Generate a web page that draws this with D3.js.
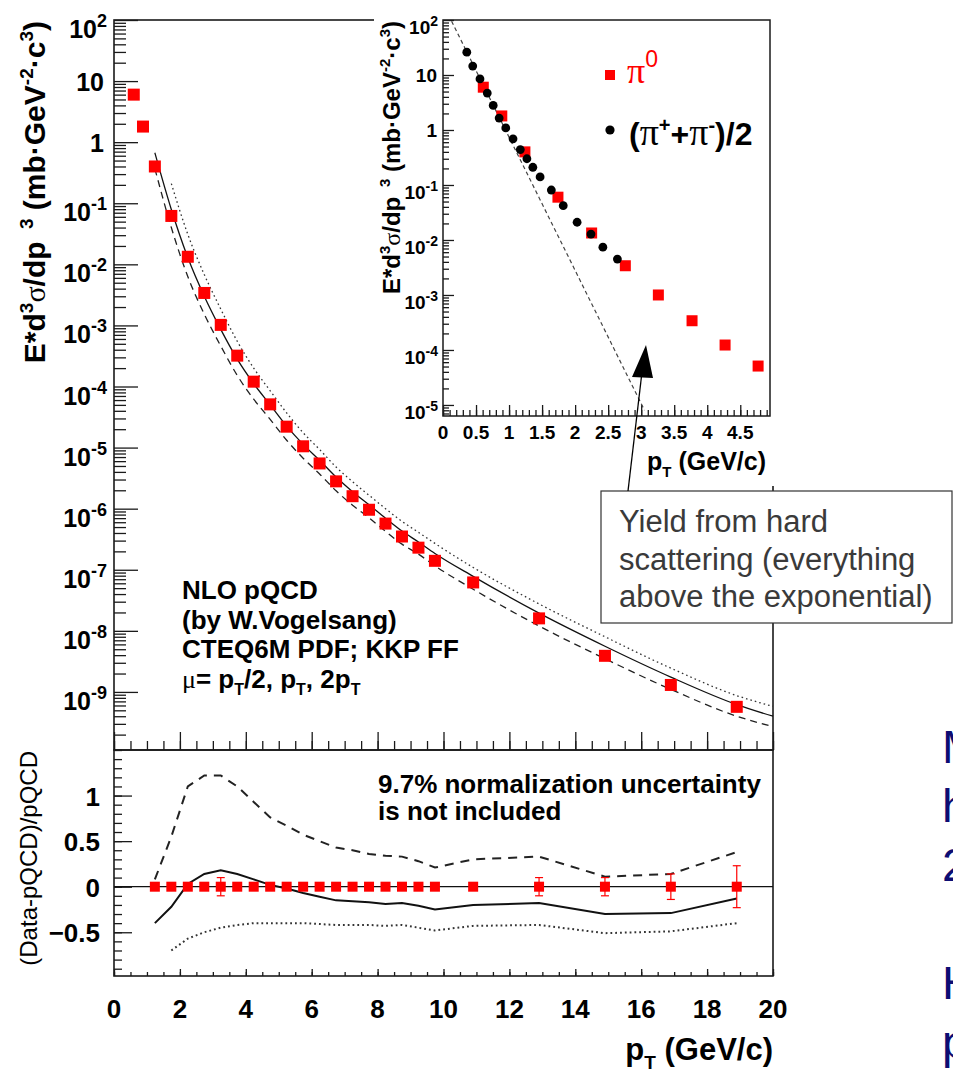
<!DOCTYPE html>
<html>
<head>
<meta charset="utf-8">
<script src="https://cdnjs.cloudflare.com/ajax/libs/d3/7.8.5/d3.min.js"></script>
<style>
  body { margin: 0; background: #fff; overflow: hidden; }
  svg { display: block; font-family: "Liberation Sans", Arial, Helvetica, sans-serif; }
</style>
</head>
<body>
<svg id="viz" width="953" height="1076"></svg>
<script>
// ---- main spectrum (pi0) ----
const dataPt    = [0.6, 0.88, 1.24, 1.74, 2.24, 2.74, 3.24, 3.74, 4.24, 4.74, 5.24, 5.74, 6.24, 6.74, 7.24, 7.74, 8.24, 8.74, 9.24, 9.74, 10.9, 12.9, 14.9, 16.9, 18.9];
const dataYield = [6.0, 1.8, 0.40, 0.062, 0.0133, 3.4e-3, 1.02e-3, 3.2e-4, 1.2e-4, 5.1e-5, 2.2e-5, 1.05e-5, 5.5e-6, 2.8e-6, 1.6e-6, 9.6e-7, 5.7e-7, 3.5e-7, 2.3e-7, 1.4e-7, 6.2e-8, 1.6e-8, 3.9e-9, 1.3e-9, 5.7e-10];

// NLO pQCD curves for the three scale choices
const theoryPt     = [1.24, 1.74, 2.24, 2.74, 3.24, 3.74, 4.24, 4.74, 5.24, 5.74, 6.24, 6.74, 7.24, 7.74, 8.24, 8.74, 9.24, 9.74, 10.9, 12.9, 14.9, 16.9, 18.9, 20];
const theorySolid  = [0.67, 0.079, 0.0129, 3.0e-3, 8.6e-4, 2.8e-4, 1.11e-4, 5.0e-5, 2.25e-5, 1.13e-5, 6.2e-6, 3.3e-6, 1.9e-6, 1.16e-6, 7.0e-7, 4.3e-7, 2.85e-7, 1.85e-7, 7.8e-8, 1.95e-8, 5.6e-9, 1.75e-9, 6.2e-10, 4.0e-10];
const theoryDashed = [0.37, 0.040, 6.3e-3, 1.53e-3, 4.6e-4, 1.52e-4, 6.2e-5, 2.9e-5, 1.32e-5, 6.7e-6, 3.7e-6, 1.96e-6, 1.14e-6, 7.1e-7, 4.25e-7, 2.63e-7, 1.8e-7, 1.16e-7, 4.8e-8, 1.2e-8, 3.5e-9, 1.1e-9, 4.0e-10, 2.7e-10];
const theoryDotted = [null, 0.21, 0.031, 6.8e-3, 1.85e-3, 5.5e-4, 2.0e-4, 8.5e-5, 3.7e-5, 1.75e-5, 9.3e-6, 4.8e-6, 2.76e-6, 1.66e-6, 1.0e-6, 6.2e-7, 4.1e-7, 2.7e-7, 1.09e-7, 2.76e-8, 8.0e-9, 2.45e-9, 8.7e-10, 5.8e-10];

// ---- ratio panel ----
const ratioPt     = [1.24, 1.74, 2.24, 2.74, 3.24, 3.74, 4.24, 4.74, 5.24, 5.74, 6.24, 6.74, 7.24, 7.74, 8.24, 8.74, 9.24, 9.74, 10.9, 12.9, 14.9, 16.9, 18.9];
const ratioVal    = [0, 0, 0, 0, 0, 0, 0, 0, 0, 0, 0, 0, 0, 0, 0, 0, 0, 0, 0, 0, 0, 0, 0];
const ratioErr    = [0, 0, 0, 0, 0.1, 0, 0, 0, 0, 0, 0, 0, 0, 0, 0, 0, 0, 0, 0, 0.1, 0.1, 0.14, 0.23];
const ratioSolid  = [-0.40, -0.22, 0.03, 0.14, 0.18, 0.14, 0.08, 0.02, -0.02, -0.07, -0.11, -0.15, -0.16, -0.17, -0.19, -0.18, -0.21, -0.25, -0.20, -0.18, -0.30, -0.29, -0.13];
const ratioDashed = [0.08, 0.55, 1.10, 1.22, 1.22, 1.10, 0.93, 0.76, 0.67, 0.57, 0.50, 0.43, 0.40, 0.36, 0.34, 0.33, 0.28, 0.21, 0.30, 0.33, 0.11, 0.14, 0.38];
const ratioDotted = [null, -0.70, -0.57, -0.50, -0.45, -0.42, -0.40, -0.40, -0.40, -0.40, -0.41, -0.42, -0.42, -0.42, -0.43, -0.42, -0.45, -0.48, -0.43, -0.42, -0.51, -0.49, -0.40];

// ---- inset: low pT ----
const insetPi0Pt    = [0.61, 0.89, 1.24, 1.74, 2.25, 2.76, 3.26, 3.77, 4.27, 4.77];
const insetPi0Yield = [6.0, 1.8, 0.40, 0.06, 0.0134, 3.4e-3, 1.0e-3, 3.4e-4, 1.23e-4, 5.1e-5];
const insetPicPt    = [0.36, 0.45, 0.56, 0.67, 0.76, 0.85, 0.95, 1.06, 1.17, 1.27, 1.36, 1.47, 1.64, 1.82, 2.03, 2.24, 2.42, 2.64];
const insetPicYield = [26, 14.5, 8.5, 4.7, 2.8, 1.65, 1.09, 0.69, 0.44, 0.30, 0.21, 0.14, 0.081, 0.042, 0.021, 0.0128, 7.4e-3, 4.5e-3];
const expPt    = [0.13, 3.05];
const expYield = [95, 8e-6];

// ---- tick labels ----
const mainYTicks = [1e2, 1e1, 1, 1e-1, 1e-2, 1e-3, 1e-4, 1e-5, 1e-6, 1e-7, 1e-8, 1e-9];
const mainYBase  = ["10", "10", "1", "10", "10", "10", "10", "10", "10", "10", "10", "10"];
const mainYSup   = ["2", "", "", "-1", "-2", "-3", "-4", "-5", "-6", "-7", "-8", "-9"];
const ratioYTicks  = [1, 0.5, 0, -0.5];
const ratioYLabels = ["1", "0.5", "0", "\u22120.5"];
const xTicks  = [0, 2, 4, 6, 8, 10, 12, 14, 16, 18, 20];
const xLabels = ["0", "2", "4", "6", "8", "10", "12", "14", "16", "18", "20"];
const insetXTicks  = [0, 0.5, 1, 1.5, 2, 2.5, 3, 3.5, 4, 4.5];
const insetXLabels = ["0", "0.5", "1", "1.5", "2", "2.5", "3", "3.5", "4", "4.5"];
const insetYTicks = [1e2, 1e1, 1, 1e-1, 1e-2, 1e-3, 1e-4, 1e-5];
const insetYBase  = ["10", "10", "1", "10", "10", "10", "10", "10"];
const insetYSup   = ["2", "", "", "-1", "-2", "-3", "-4", "-5"];

const calloutLines = ["Yield from hard", "scattering (everything", "above the exponential)"];
const slideLines = ["M", "h", "2", "H", "p"];
const slideBaselines = [763, 822, 881, 999, 1058];

// ------------------------------------------------------------------
const svg = d3.select("#viz");
const INK = "#1a1a1a";
const RED = "#ff0000";
const SERIF = "'Liberation Serif','DejaVu Serif',serif";

const x = d3.scaleLinear().domain([0, 20]).range([114, 773]);
const yMain = d3.scaleLog().domain([1.12e-10, 100]).range([750, 20]);
const yRatio = d3.scaleLinear().domain([-0.98, 1.5]).range([976, 750]);
const xIn = d3.scaleLinear().domain([0, 4.95]).range([443, 770]);
const yIn = d3.scaleLog().domain([6.3e-6, 100]).range([416, 20]);

// rich text with super/subscripts
function richText(parent, parts, opt) {
  const t = parent.append("text")
    .attr("x", opt.x).attr("y", opt.y)
    .attr("text-anchor", opt.anchor || "start")
    .attr("font-size", opt.size)
    .attr("font-weight", opt.weight || "bold")
    .attr("fill", opt.fill || "#000");
  if (opt.transform) t.attr("transform", opt.transform).attr("x", 0).attr("y", 0);
  let shift = 0;
  parts.forEach(p => {
    const target = p.sup ? -opt.rise : p.sub ? opt.drop : 0;
    const s = t.append("tspan").text(p.t).attr("dy", target - shift);
    if (p.sup || p.sub) s.attr("font-size", opt.small);
    if (p.serif) s.attr("font-family", SERIF).attr("font-weight", "normal");
    if (p.big) s.attr("font-size", p.big);
    if (p.dx) s.attr("dx", p.dx);
    shift = target;
  });
  return t;
}

function strip(g) { g.select(".domain").remove(); g.selectAll(".tick line").attr("stroke", INK).attr("stroke-width", 1.3); }

// ================= MAIN PANEL =================
const main = svg.append("g");
main.append("rect").attr("x", 114).attr("y", 20).attr("width", 659).attr("height", 730)
  .attr("fill", "none").attr("stroke", INK).attr("stroke-width", 1.6);

const mainMinor = yMain.ticks(20).filter(v => mainYTicks.indexOf(v) < 0);
main.append("g").attr("transform", "translate(114,0)")
  .call(d3.axisLeft(yMain).tickValues(mainMinor).tickSize(-12).tickFormat("")).call(strip);
main.append("g").attr("transform", "translate(114,0)")
  .call(d3.axisLeft(yMain).tickValues(mainYTicks).tickSize(-24).tickFormat("")).call(strip);
mainYTicks.forEach((v, i) => {
  const hasSup = mainYSup[i] !== "";
  const parts = [{ t: mainYBase[i] }];
  if (hasSup) parts.push({ t: mainYSup[i], sup: true });
  richText(main, parts, { x: hasSup ? 107 : 104, y: yMain(v) + (hasSup ? 18 : 10), anchor: "end",
    size: 25, small: 18, rise: 11 });
});

main.append("g").attr("transform", "translate(0,750)")
  .call(d3.axisBottom(x).tickValues(x.ticks(40)).tickSize(-9).tickFormat("")).call(strip);
main.append("g").attr("transform", "translate(0,750)")
  .call(d3.axisBottom(x).tickValues(xTicks).tickSize(-18).tickFormat("")).call(strip);

// y title
richText(main, [{ t: "E*d" }, { t: "3", sup: true }, { t: "\u03c3", serif: true }, { t: "/dp " },
  { t: "3", sup: true, dx: 4 }, { t: " (mb\u00b7GeV" }, { t: "-2", sup: true }, { t: "\u00b7c" },
  { t: "3", sup: true }, { t: ")" }],
  { transform: "translate(45,21) rotate(-90)", anchor: "end", size: 30, small: 19, rise: 12 });

// theory curves
const tl = (arr, sc, xs) => d3.line().defined((d, i) => arr[i] != null)
  .x((d, i) => xs(d)).y((d, i) => sc(arr[i])).curve(d3.curveMonotoneX);
main.append("path").attr("d", tl(theoryDotted, yMain, x)(theoryPt))
  .attr("fill", "none").attr("stroke", "#333").attr("stroke-width", 1.3).attr("stroke-dasharray", "1.6,3");
main.append("path").attr("d", tl(theoryDashed, yMain, x)(theoryPt))
  .attr("fill", "none").attr("stroke", "#222").attr("stroke-width", 1.3).attr("stroke-dasharray", "7,5");
main.append("path").attr("d", tl(theorySolid, yMain, x)(theoryPt))
  .attr("fill", "none").attr("stroke", "#111").attr("stroke-width", 1.3);

main.selectAll("rect.pt").data(dataPt).join("rect").attr("class", "pt")
  .attr("x", d => x(d) - 6).attr("y", (d, i) => yMain(dataYield[i]) - 6)
  .attr("width", 12).attr("height", 12).attr("fill", RED);

// text block
const tb = { size: 26, small: 16, drop: 7, rise: 10 };
richText(main, [{ t: "NLO pQCD" }], { ...tb, x: 182, y: 599 });
richText(main, [{ t: "(by W.Vogelsang)" }], { ...tb, x: 182, y: 629 });
richText(main, [{ t: "CTEQ6M PDF; KKP FF" }], { ...tb, x: 182, y: 658 });
richText(main, [{ t: "\u03bc", serif: true }, { t: "= p" }, { t: "T", sub: true }, { t: "/2, p" },
  { t: "T", sub: true }, { t: ", 2p" }, { t: "T", sub: true }], { ...tb, x: 182, y: 688 });

// ================= RATIO PANEL =================
const rp = svg.append("g");
rp.append("rect").attr("x", 114).attr("y", 750).attr("width", 659).attr("height", 226)
  .attr("fill", "none").attr("stroke", INK).attr("stroke-width", 1.6);
rp.append("g").attr("transform", "translate(114,0)")
  .call(d3.axisLeft(yRatio).tickValues(yRatio.ticks(25)).tickSize(-8).tickFormat("")).call(strip);
rp.append("g").attr("transform", "translate(114,0)")
  .call(d3.axisLeft(yRatio).tickValues(ratioYTicks).tickSize(-18).tickFormat("")).call(strip);
ratioYTicks.forEach((v, i) => {
  rp.append("text").attr("x", 100).attr("y", yRatio(v) + 10).attr("text-anchor", "end")
    .attr("font-size", 26).attr("font-weight", "bold").text(ratioYLabels[i]);
});
rp.append("g").attr("transform", "translate(0,976)")
  .call(d3.axisBottom(x).tickValues(x.ticks(40)).tickSize(-4).tickFormat("")).call(strip);
rp.append("g").attr("transform", "translate(0,976)")
  .call(d3.axisBottom(x).tickValues(xTicks).tickSize(-7).tickFormat("")).call(strip);
xTicks.forEach((v, i) => {
  rp.append("text").attr("x", x(v)).attr("y", 1018).attr("text-anchor", "middle")
    .attr("font-size", 26).attr("font-weight", "bold").text(xLabels[i]);
});
richText(rp, [{ t: "p" }, { t: "T", sub: true }, { t: " (GeV/c)" }],
  { x: 773, y: 1060, anchor: "end", size: 31, small: 19, drop: 9 });
rp.append("text").attr("transform", "translate(37,751) rotate(-90)").attr("text-anchor", "end")
  .attr("font-size", 24).text("(Data-pQCD)/pQCD");

rp.append("line").attr("x1", x(0)).attr("x2", x(20)).attr("y1", yRatio(0)).attr("y2", yRatio(0))
  .attr("stroke", "#111").attr("stroke-width", 1.2);
const rl = arr => d3.line().defined((d, i) => arr[i] != null).x(d => x(d)).y((d, i) => yRatio(arr[i]));
rp.append("path").attr("d", rl(ratioDashed)(ratioPt)).attr("fill", "none")
  .attr("stroke", "#222").attr("stroke-width", 2).attr("stroke-dasharray", "9,7");
rp.append("path").attr("d", rl(ratioSolid)(ratioPt)).attr("fill", "none")
  .attr("stroke", "#111").attr("stroke-width", 2);
rp.append("path").attr("d", rl(ratioDotted)(ratioPt)).attr("fill", "none")
  .attr("stroke", "#333").attr("stroke-width", 2).attr("stroke-dasharray", "1.8,3");

const eb = rp.selectAll("g.eb").data(ratioPt.map((p, i) => i).filter(i => ratioErr[i] > 0)).join("g");
eb.append("line").attr("x1", i => x(ratioPt[i])).attr("x2", i => x(ratioPt[i]))
  .attr("y1", i => yRatio(ratioVal[i] - ratioErr[i])).attr("y2", i => yRatio(ratioVal[i] + ratioErr[i]))
  .attr("stroke", RED).attr("stroke-width", 1.2);
[-1, 1].forEach(s => {
  eb.append("line").attr("x1", i => x(ratioPt[i]) - 4).attr("x2", i => x(ratioPt[i]) + 4)
    .attr("y1", i => yRatio(ratioVal[i] + s * ratioErr[i])).attr("y2", i => yRatio(ratioVal[i] + s * ratioErr[i]))
    .attr("stroke", RED).attr("stroke-width", 1.2);
});
rp.selectAll("rect.pt").data(ratioPt).join("rect").attr("class", "pt")
  .attr("x", d => x(d) - 5).attr("y", (d, i) => yRatio(ratioVal[i]) - 5)
  .attr("width", 10).attr("height", 10).attr("fill", RED);

richText(rp, [{ t: "9.7% normalization uncertainty" }], { x: 378, y: 793, size: 26 });
richText(rp, [{ t: "is not included" }], { x: 378, y: 820, size: 26 });

// ================= INSET =================
const ins = svg.append("g");
ins.append("rect").attr("x", 374).attr("y", 0).attr("width", 420).attr("height", 486).attr("fill", "#fff");
ins.append("rect").attr("x", 443).attr("y", 20).attr("width", 327).attr("height", 396)
  .attr("fill", "none").attr("stroke", INK).attr("stroke-width", 1.5);
const inMinor = yIn.ticks(20).filter(v => insetYTicks.indexOf(v) < 0);
ins.append("g").attr("transform", "translate(443,0)")
  .call(d3.axisLeft(yIn).tickValues(inMinor).tickSize(-6).tickFormat("")).call(strip);
ins.append("g").attr("transform", "translate(443,0)")
  .call(d3.axisLeft(yIn).tickValues(insetYTicks).tickSize(-11).tickFormat("")).call(strip);
insetYTicks.forEach((v, i) => {
  const hasSup = insetYSup[i] !== "";
  const parts = [{ t: insetYBase[i] }];
  if (hasSup) parts.push({ t: insetYSup[i], sup: true });
  richText(ins, parts, { x: hasSup ? 438 : 437, y: yIn(v) + (hasSup ? 14 : 7), anchor: "end",
    size: 19, small: 14, rise: 8 });
});
ins.append("g").attr("transform", "translate(0,416)")
  .call(d3.axisBottom(xIn).tickValues(xIn.ticks(50)).tickSize(-6).tickFormat("")).call(strip);
ins.append("g").attr("transform", "translate(0,416)")
  .call(d3.axisBottom(xIn).tickValues(insetXTicks).tickSize(-11).tickFormat("")).call(strip);
insetXTicks.forEach((v, i) => {
  ins.append("text").attr("x", xIn(v)).attr("y", 439).attr("text-anchor", "middle")
    .attr("font-size", 19).attr("font-weight", "bold").text(insetXLabels[i]);
});
richText(ins, [{ t: "p" }, { t: "T", sub: true }, { t: " (GeV/c)" }],
  { x: 766, y: 470, anchor: "end", size: 25, small: 15, drop: 7 });
richText(ins, [{ t: "E*d" }, { t: "3", sup: true }, { t: "\u03c3", serif: true }, { t: "/dp " },
  { t: "3", sup: true, dx: 3 }, { t: " (mb\u00b7GeV" }, { t: "-2", sup: true }, { t: "\u00b7c" },
  { t: "3", sup: true }, { t: ")" }],
  { transform: "translate(400,21) rotate(-90)", anchor: "end", size: 24, small: 15, rise: 10 });

ins.append("path").attr("d", d3.line().x(d => xIn(d)).y((d, i) => yIn(expYield[i]))(expPt))
  .attr("fill", "none").attr("stroke", "#444").attr("stroke-width", 1.2).attr("stroke-dasharray", "4,3");
ins.selectAll("rect.pt").data(insetPi0Pt).join("rect").attr("class", "pt")
  .attr("x", d => xIn(d) - 5.5).attr("y", (d, i) => yIn(insetPi0Yield[i]) - 5.5)
  .attr("width", 11).attr("height", 11).attr("fill", RED);
ins.selectAll("circle.pt").data(insetPicPt).join("circle").attr("class", "pt")
  .attr("cx", d => xIn(d)).attr("cy", (d, i) => yIn(insetPicYield[i]))
  .attr("r", 4.4).attr("fill", "#000");

// legend
ins.append("rect").attr("x", 605).attr("y", 70).attr("width", 10).attr("height", 10).attr("fill", RED);
richText(ins, [{ t: "\u03c0", serif: true, big: 36 }, { t: "0", sup: true }],
  { x: 627, y: 83, size: 32, small: 23, rise: 16, fill: RED, weight: "normal" });
ins.append("circle").attr("cx", 610).attr("cy", 130).attr("r", 4.6).attr("fill", "#000");
richText(ins, [{ t: "(" }, { t: "\u03c0", serif: true, big: 38 }, { t: "+", sup: true }, { t: "+" },
  { t: "\u03c0", serif: true, big: 38 }, { t: "-", sup: true }, { t: ")/2" }],
  { x: 629, y: 145, size: 32, small: 20, rise: 13 });

// ================= CALLOUT =================
const co = svg.append("g");
co.append("rect").attr("x", 601).attr("y", 491).attr("width", 351).attr("height", 132)
  .attr("fill", "#fff").attr("stroke", "#333").attr("stroke-width", 1.2);
calloutLines.forEach((s, i) => {
  co.append("text").attr("x", 619).attr("y", 532 + i * 37.5).attr("font-size", 31)
    .attr("fill", "#3a3a3a").text(s);
});
co.append("line").attr("x1", 628).attr("y1", 491).attr("x2", 642).attr("y2", 372)
  .attr("stroke", "#000").attr("stroke-width", 1.3);
co.append("path").attr("d", "M646,345L632,377L653,378Z").attr("fill", "#000");

// clipped slide text at right edge
slideLines.forEach((s, i) => {
  svg.append("text").attr("x", 942).attr("y", slideBaselines[i]).attr("font-size", 47)
    .attr("fill", "#0d0d73").text(s);
});
</script>
</body>
</html>
